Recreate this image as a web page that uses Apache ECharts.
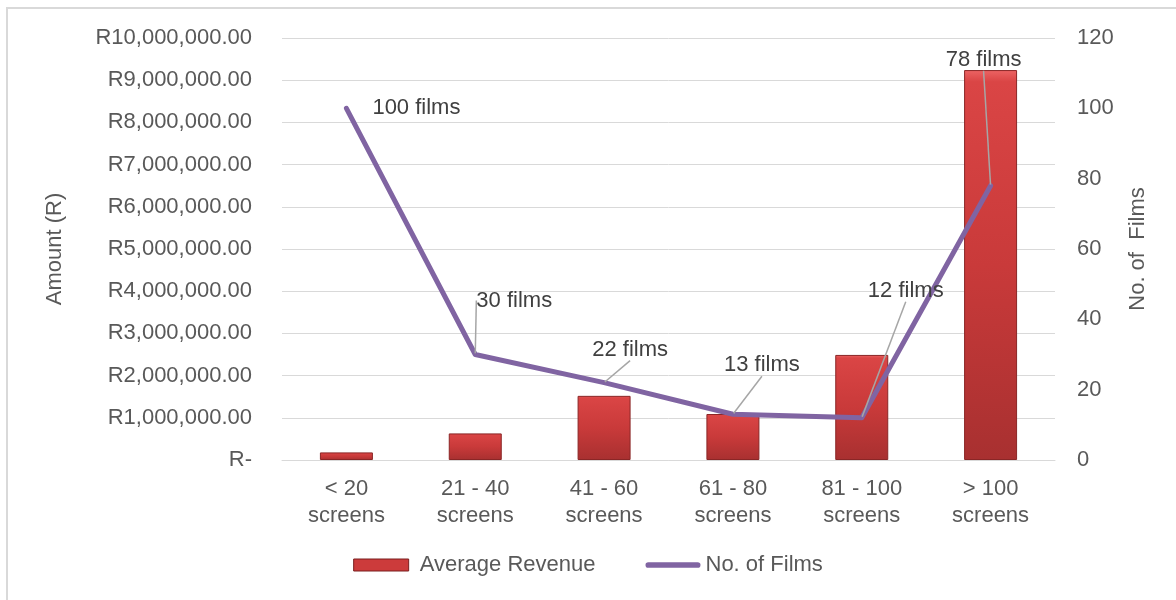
<!DOCTYPE html>
<html>
<head>
<meta charset="utf-8">
<style>
  html, body { margin: 0; padding: 0; background: #fff; }
  #wrap { position: relative; width: 1176px; height: 600px; overflow: hidden; }
  #chart { position: absolute; left: 0; top: 0; width: 1176px; height: 600px; }
  #frame { position: absolute; left: 6px; top: 7px; width: 1200px; height: 620px;
           border-left: 2px solid #d9d9d9; border-top: 2px solid #d9d9d9; pointer-events: none; }
</style>
<script src="https://cdn.jsdelivr.net/npm/echarts@6/dist/echarts.min.js"></script>
</head>
<body>
<div id="wrap">
  <div id="chart"></div>
  <div id="frame"></div>
</div>
<script>
// Screen-count bands
const categories = ['< 20\nscreens', '21 - 40\nscreens', '41 - 60\nscreens', '61 - 80\nscreens', '81 - 100\nscreens', '> 100\nscreens'];
// Average revenue per band (Rand)
const avgRevenue = [180000, 630000, 1520000, 1090000, 2490000, 9240000];
// Number of films per band
const filmCounts = [100, 30, 22, 13, 12, 78];

// Offsets (px) of each film-count label from its point
const labelOffsets = [[70, 0], [39, -54], [26, -33], [29, -49], [44, -127], [-7, -126]];

const FONT = '"Liberation Sans", Arial, sans-serif';
const GREY = '#595959';
const FS = 22;

function randFormat(v) {
  if (v === 0) return 'R-';
  return 'R' + v.toLocaleString('en-US', { minimumFractionDigits: 2, maximumFractionDigits: 2 });
}

const barFill = new echarts.graphic.LinearGradient(0, 0, 0, 1, [
  { offset: 0, color: '#ec6464' },
  { offset: 0.03, color: '#da4545' },
  { offset: 0.5, color: '#c93a3a' },
  { offset: 1, color: '#a83030' }
]);

const chart = echarts.init(document.getElementById('chart'), null, { renderer: 'canvas' });

chart.setOption({
  animation: false,
  textStyle: { fontFamily: FONT },
  grid: { left: 282, right: 121, top: 38, bottom: 140 },
  legend: {
    bottom: 19,
    left: 'center',
    itemWidth: 55,
    itemHeight: 12,
    itemGap: 50,
    textStyle: { fontSize: FS, color: GREY, fontFamily: FONT },
    formatter: name => (name === 'Average Revenue' ? ' ' + name : name),
    data: [
      { name: 'Average Revenue', icon: 'rect', itemStyle: { color: '#cc3b3b', borderColor: '#7a1f1f', borderWidth: 1 } },
      { name: 'No. of Films', icon: 'path://M3,0 H55 A3,3 0 0 1 55,6 H3 A3,3 0 0 1 3,0 Z', itemStyle: { color: '#8064a2' } }
    ]
  },
  xAxis: {
    type: 'category',
    data: categories,
    axisLine: { lineStyle: { color: '#d9d9d9', width: 1 } },
    axisTick: { show: false },
    axisLabel: { fontSize: FS, color: GREY, lineHeight: 27, margin: 15, fontFamily: FONT, interval: 0 }
  },
  yAxis: [
    {
      type: 'value',
      min: 0,
      max: 10000000,
      interval: 1000000,
      name: 'Amount (R)',
      nameLocation: 'middle',
      nameRotate: 90,
      nameGap: 216,
      nameTextStyle: { fontSize: FS, color: GREY, fontFamily: FONT },
      axisLine: { show: false },
      axisTick: { show: false },
      splitLine: { lineStyle: { color: '#d9d9d9', width: 1 } },
      axisLabel: { fontSize: FS, color: GREY, margin: 30, formatter: randFormat, fontFamily: FONT }
    },
    {
      type: 'value',
      min: 0,
      max: 120,
      interval: 20,
      position: 'right',
      name: 'No. of  Films',
      nameLocation: 'middle',
      nameRotate: 90,
      nameGap: 72,
      nameTextStyle: { fontSize: FS, color: GREY, fontFamily: FONT },
      axisLine: { show: false },
      axisTick: { show: false },
      splitLine: { show: false },
      axisLabel: { fontSize: FS, color: GREY, margin: 22, fontFamily: FONT }
    }
  ],
  series: [
    {
      name: 'Average Revenue',
      type: 'bar',
      yAxisIndex: 0,
      data: avgRevenue,
      barWidth: 53,
      itemStyle: { color: barFill, borderColor: '#8a2626', borderWidth: 1 }
    },
    {
      name: 'No. of Films',
      type: 'line',
      yAxisIndex: 1,
      data: filmCounts.map((v, i) => ({ value: v, labelLine: { show: i !== 0 } })),
      symbol: 'circle',
      symbolSize: 2,
      itemStyle: { color: '#8064a2' },
      lineStyle: { color: '#8064a2', width: 5, cap: 'round', join: 'round' },
      label: {
        show: true,
        position: 'inside',
        formatter: p => p.value + ' films',
        fontSize: FS,
        color: '#404040',
        fontFamily: FONT
      },
      labelLine: { show: true, lineStyle: { color: '#a6a6a6', width: 1.5 } },
      labelLayout: p => ({ dx: labelOffsets[p.dataIndex][0], dy: labelOffsets[p.dataIndex][1] }),
      z: 5
    }
  ]
});
</script>
</body>
</html>
